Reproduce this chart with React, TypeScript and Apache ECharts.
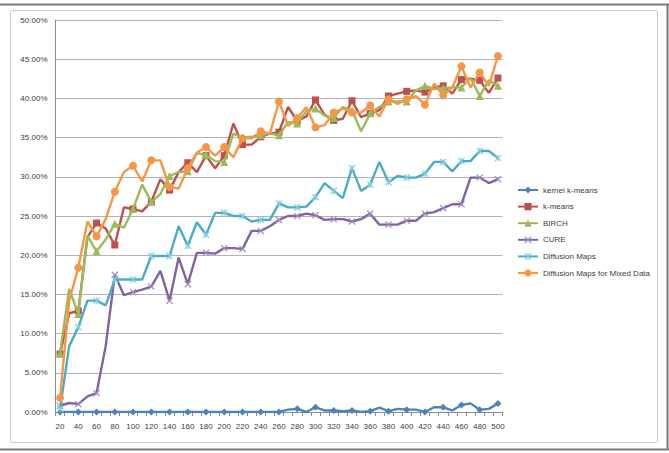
import React, { useEffect, useRef } from "react";
import * as echarts from "echarts";

const categories: string[] = [
  "20","30","40","50","60","70","80","90","100","110","120","130","140","150","160","170","180","190","200","210",
  "220","230","240","250","260","270","280","290","300","310","320","330","340","350","360","370","380","390","400","410",
  "420","430","440","450","460","470","480","490","500",
];

const kernelKMeans: number[] = [
  0,0,0,0,0,0,0,0,0,0,0,0,0,0,0,0,0,0,0,0,
  0,0,0,0,0,0.3,0.4,0.0,0.6,0.2,0.2,0.1,0.2,0.0,0.1,0.55,0.1,0.4,0.3,0.3,
  0.0,0.6,0.6,0.2,0.9,1.1,0.3,0.4,1.1,
];

const kMeans: number[] = [
  7.4,12.6,12.9,22.3,24.1,23.4,21.3,26.1,25.9,25.6,26.8,29.7,28.3,30.6,31.8,30.6,32.7,31.1,32.7,36.8,
  34.1,34.1,35.1,35.5,35.7,38.9,37.1,37.7,39.8,37.9,37.2,37.4,39.7,37.6,38.1,38.5,40.3,40.6,40.9,41.0,
  40.8,41.4,41.6,40.6,42.4,42.5,42.3,40.7,42.6,
];

const birch: number[] = [
  7.5,15.7,12.5,22.5,20.5,22.0,24.0,23.5,25.9,29.0,26.8,27.8,30.1,30.6,30.7,33.0,32.8,32.0,31.9,35.5,
  35.0,35.1,35.3,35.5,35.3,37.0,36.8,38.4,38.7,37.8,37.5,38.9,38.5,35.8,38.1,38.9,39.6,39.6,39.6,41.0,
  41.6,41.2,41.3,41.4,41.4,42.6,40.3,42.3,41.6,
];

const cure: number[] = [
  0.8,1.15,1.0,2.0,2.4,8.4,17.5,14.9,15.3,15.6,16.0,18.0,14.2,19.7,16.3,20.3,20.3,20.2,20.9,20.9,
  20.8,23.1,23.1,23.7,24.5,25.0,25.0,25.3,25.1,24.5,24.6,24.6,24.3,24.6,25.3,23.9,23.9,23.9,24.4,24.4,
  25.3,25.5,26.0,26.5,26.5,29.9,29.9,29.2,29.7,
];

const diffusionMaps: number[] = [
  0.4,8.4,10.8,14.2,14.2,13.6,16.9,16.9,16.9,16.9,19.9,19.9,19.9,23.7,21.2,24.2,22.6,25.4,25.4,25.0,
  25.0,24.3,24.5,24.5,26.6,26.1,26.1,26.2,27.4,29.2,28.2,27.3,31.1,28.2,29.0,31.9,29.3,30.1,29.9,29.9,
  30.4,31.9,31.9,30.7,32.0,32.0,33.3,33.3,32.4,
];

const diffusionMapsMixed: number[] = [
  1.8,14.2,18.4,24.3,22.4,24.6,28.1,30.6,31.4,29.4,32.1,32.1,28.7,28.5,31.1,33.1,33.8,32.7,33.8,32.5,
  34.9,34.9,35.8,35.5,39.6,36.5,37.5,38.9,36.3,36.6,38.2,38.7,38.2,38.2,39.1,37.7,39.9,39.3,39.9,40.3,
  39.2,41.9,40.4,41.4,44.1,41.4,43.3,41.6,45.4,
];

const seriesNames: string[] = [
  "kernel k-means",
  "k-means",
  "BIRCH",
  "CURE",
  "Diffusion Maps",
  "Diffusion Maps for Mixed Data",
];

const yTicks: number[] = [0, 5, 10, 15, 20, 25, 30, 35, 40, 45, 50];

const X_SYMBOL = "path://M0,1.2 L1.2,0 L5,3.8 L8.8,0 L10,1.2 L6.2,5 L10,8.8 L8.8,10 L5,6.2 L1.2,10 L0,8.8 L3.8,5 Z";
const STAR_SYMBOL =
  "path://M0,1.2 L1.2,0 L4.4,3.2 L4.4,0 L5.6,0 L5.6,3.2 L8.8,0 L10,1.2 L6.2,5 L10,8.8 L8.8,10 L5.6,6.8 L5.6,10 L4.4,10 L4.4,6.8 L1.2,10 L0,8.8 L3.8,5 Z";

export default function App() {
  const ref = useRef<HTMLDivElement>(null);

  useEffect(() => {
    if (!ref.current) return;
    const chart = echarts.init(ref.current, undefined, { renderer: "svg" });
    const font = "'Liberation Sans', Arial, sans-serif";
    const colors = ["#4F81BD", "#C0504D", "#9BBB59", "#8064A2", "#4BACC6", "#F79646"];
    const dataSets = [kernelKMeans, kMeans, birch, cure, diffusionMaps, diffusionMapsMixed];
    const symbols = ["diamond", "rect", "triangle", X_SYMBOL, STAR_SYMBOL, "circle"];
    const symbolSizes = [7, 7, 8, 7, 7, 8];
    const symbolColors = ["#4F81BD", "#C0504D", "#9BBB59", "#A08CC0", "#7FCCE0", "#F79646"];

    chart.setOption({
      animation: false,
      backgroundColor: "#ffffff",
      color: colors,
      textStyle: { fontFamily: font },
      graphic: [
        { type: "line", shape: { x1: 0, y1: 4.5, x2: 669, y2: 4.5 }, style: { stroke: "#7a7a7a", lineWidth: 2 }, silent: true },
        { type: "line", shape: { x1: 667.5, y1: 4, x2: 667.5, y2: 450 }, style: { stroke: "#7a7a7a", lineWidth: 2 }, silent: true },
        { type: "line", shape: { x1: 0, y1: 449.5, x2: 669, y2: 449.5 }, style: { stroke: "#7a7a7a", lineWidth: 2 }, silent: true },
        { type: "rect", shape: { x: 10.5, y: 10.5, width: 647, height: 432, r: 2 }, style: { fill: "none", stroke: "#c8c8c8", lineWidth: 1 }, silent: true },
      ],
      grid: { left: 55.5, right: 166.5, top: 20, bottom: 41, containLabel: false },
      legend: {
        orient: "vertical",
        left: 512,
        top: 180.5,
        itemWidth: 20,
        itemHeight: 9,
        itemGap: 7.6,
        textStyle: { fontSize: 8, lineHeight: 9, color: "#404040", fontFamily: font },
        data: seriesNames,
      },
      xAxis: {
        type: "category",
        data: categories,
        boundaryGap: true,
        axisLine: { lineStyle: { color: "#8c8c8c", width: 1 } },
        axisTick: { show: true, interval: 0, length: 4, inside: false, lineStyle: { color: "#8c8c8c" } },
        axisLabel: { interval: 1, color: "#404040", fontSize: 8, margin: 10, fontFamily: font },
        splitLine: { show: false },
      },
      yAxis: {
        type: "value",
        min: yTicks[0],
        max: yTicks[yTicks.length - 1],
        interval: 5,
        axisLine: { show: true, lineStyle: { color: "#8c8c8c", width: 1 } },
        axisTick: { show: false },
        axisLabel: {
          color: "#404040",
          fontSize: 8,
          margin: 8,
          fontFamily: font,
          formatter: (v: number) => v.toFixed(2) + "%",
        },
        splitLine: { show: true, lineStyle: { color: "#b4b4b4", width: 1 } },
      },
      series: seriesNames.map((name, i) => ({
        name,
        type: "line",
        data: dataSets[i],
        symbol: symbols[i],
        symbolSize: symbolSizes[i],
        showSymbol: true,
        lineStyle: { color: colors[i], width: 2.4 },
        itemStyle: { color: symbolColors[i], borderWidth: 0 },
        emphasis: { disabled: true },
        z: 2 + i,
      })),
    });
    return () => chart.dispose();
  }, []);

  return (
    <div
      ref={ref}
      style={{ position: "fixed", left: 0, top: 0, width: 669, height: 453 }}
    />
  );
}
